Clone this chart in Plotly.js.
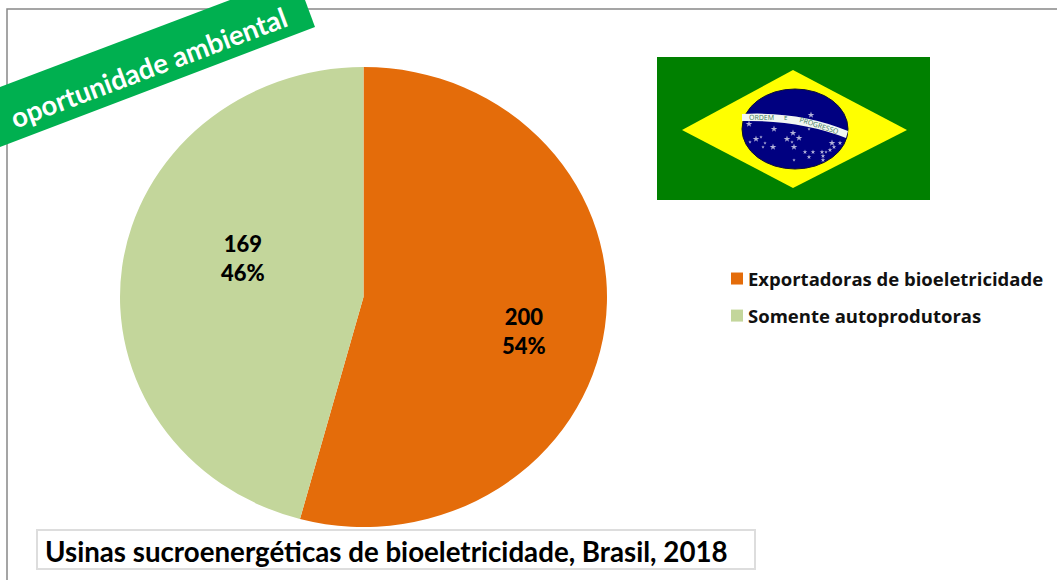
<!DOCTYPE html>
<html><head><meta charset="utf-8">
<script src="https://cdn.plot.ly/plotly-3.0.1.min.js"></script>
<style>html,body{margin:0;padding:0;background:#fff}#c{width:1057px;height:580px}</style>
</head><body><div id="c"></div>
<script>
const categories = ['Exportadoras de bioeletricidade', 'Somente autoprodutoras'];
const plantCounts = [200, 169];
const sliceColors = ['#E46C0A', '#C3D69B'];
const labelPosX = [524, 243];
const labelPosY = [331, 258];
const chartTitle = 'Usinas sucroenergéticas de bioeletricidade, Brasil, 2018';
const ribbonText = 'oportunidade ambiental';
const starX = [811,749,774,793,809,799,787,792,756,750,761,765,763,773,794,805,813,809,822,826,830,834,832,840,823,823,794];
const starY = [115,124,129,133,129,138,139,142,139,142,137,143,147,147,147,152,152,157,152,152,150,147,143,143,156,160,160];
const starSize = [5,5,5,5,2.5,5,5,2.5,5,2.5,2.5,2.5,2.5,5,5,3.5,3.5,3.5,3.5,2.5,3.5,3.5,5,3.5,3.5,3.5,2.5];
const FONT = 'Lato, "Open Sans", sans-serif';
const total = plantCounts.reduce((a,b)=>a+b,0);

const W=1057,H=580,CX=363.5,CY=297,RX=243.5,RY=230;

const pie = {type:'pie',labels:categories,values:plantCounts,sort:false,direction:'clockwise',rotation:0,
  marker:{colors:sliceColors,line:{width:0}},textinfo:'none',hoverinfo:'label+value+percent',
  domain:{x:[(CX-RX)/W,(CX+RX)/W],y:[(H-CY-RX)/H,(H-CY+RX)/H]}};
const stars = {type:'scatter',mode:'markers',x:starX,y:starY,xaxis:'x',yaxis:'y',showlegend:false,hoverinfo:'skip',
  marker:{symbol:'star',color:'#ffffff',size:starSize,line:{width:0}}};

const shapes = [
  {type:'path',layer:'below',path:'M7,580 L7,9 L1057,9',line:{color:'#888888',width:1.5}},
  {type:'rect',layer:'above',x0:37,x1:755,y0:530,y1:569,line:{color:'#dddddd',width:2},fillcolor:'rgba(255,255,255,0)'},
  {type:'path',layer:'above',path:'M0,87 L230,0 L305,0 L315,27 L0,147 Z',fillcolor:'#00B050',line:{width:0}},
  {type:'rect',layer:'below',x0:657,x1:930,y0:57,y1:200,fillcolor:'#008000',line:{width:0}},
  {type:'path',layer:'below',path:'M682,130 L793,70 L907,130 L793,188 Z',fillcolor:'#FFFF00',line:{width:0}},
  {type:'circle',layer:'below',x0:742,x1:848,y0:89,y1:169,fillcolor:'#000080',line:{color:'#101030',width:1}},
  {type:'path',layer:'below',path:'M742,114 Q800,111 848,131 L846,138 Q800,120 742,121 Z',fillcolor:'#F2F6F2',line:{width:0}}
];
const annotations = plantCounts.map((v,i)=>({xref:'x',yref:'y',x:labelPosX[i],y:labelPosY[i],showarrow:false,
  text:v+'<br>'+Math.round(v/total*100)+'%',align:'center',font:{family:FONT,size:22,color:'#000000',weight:900}}));
annotations.push(
  {xref:'x',yref:'y',x:386,y:551,showarrow:false,text:chartTitle,font:{family:FONT,size:27.7,color:'#000000',weight:700}},
  {xref:'x',yref:'y',x:148,y:67,showarrow:false,text:ribbonText,textangle:-20.6,font:{family:FONT,size:27.5,color:'#ffffff',weight:700}},
  {xref:'x',yref:'y',x:761,y:117,showarrow:false,text:'ORDEM',textangle:1,font:{family:'"Open Sans",sans-serif',size:7,color:'#3c7a5a'}},
  {xref:'x',yref:'y',x:785,y:118,showarrow:false,text:'E',font:{family:'"Open Sans",sans-serif',size:6,color:'#3c7a5a'}},
  {xref:'x',yref:'y',x:819,y:125,showarrow:false,text:'PROGRESSO',textangle:18,font:{family:'"Open Sans",sans-serif',size:7,color:'#3c7a5a'}}
);

const layout = {width:W,height:H,margin:{l:0,r:0,t:0,b:0,autoexpand:false},paper_bgcolor:'#fff',plot_bgcolor:'#fff',
  xaxis:{range:[0,W],domain:[0,1],visible:false,fixedrange:true},
  yaxis:{range:[H,0],domain:[0,1],visible:false,fixedrange:true},
  showlegend:true,
  legend:{x:(737-20)/W,xanchor:'left',y:1-(279-19)/H,yanchor:'top',bgcolor:'rgba(0,0,0,0)',borderwidth:0,
    font:{family:'"Open Sans", sans-serif',size:18.5,color:'#111111',weight:700},traceorder:'normal'},
  shapes,annotations};

Plotly.newPlot('c',[stars,pie],layout,{displayModeBar:false,staticPlot:true}).then(gd=>{
  // The reference pie is slightly squashed vertically, and its legend rows are loosely spaced.
  const k=RY/RX;
  document.querySelectorAll('.pielayer').forEach(g=>g.setAttribute('transform',
    `translate(0,${CY}) scale(1,${k}) translate(0,${-CY})`));
  const lg=gd.querySelector('.legend');
  lg.querySelectorAll('[clip-path]').forEach(n=>n.removeAttribute('clip-path'));
  lg.querySelectorAll('.traces').forEach((t,i)=>{
    t.querySelectorAll('.legendtext').forEach(x=>x.setAttribute('x',+x.getAttribute('x')-9));
    if(i===1){const m=(t.getAttribute('transform')||'').match(/translate\(([-\d.]+),\s*([-\d.]+)\)/);
      if(m)t.setAttribute('transform',`translate(${m[1]},${+m[2]+10})`);}
  });
});
</script></body></html>
